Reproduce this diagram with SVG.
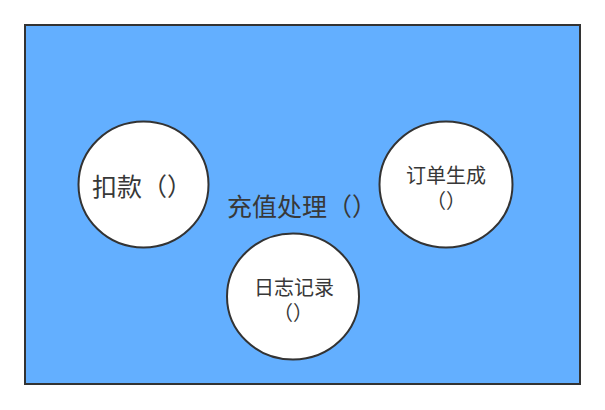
<svg xmlns="http://www.w3.org/2000/svg" width="605" height="410" viewBox="0 0 605 410">
<style>
.bg{fill:#ffffff}
.frame{fill:#63afff;stroke:#333333;stroke-width:2}
.node{fill:#ffffff;stroke:#333333;stroke-width:2}
text{font-family:"Microsoft YaHei","Noto Sans CJK SC","Noto Sans",sans-serif;fill:#383838}
.big{font-size:25px}
.small{font-size:20px;text-anchor:middle}
</style>
<rect class="bg" x="0" y="0" width="605" height="410"/>
<g id="container">
<rect class="frame" x="25" y="25" width="555" height="359"/>
<text class="big" x="227" y="216">充值处理（）</text>
</g>
<g id="node-deduct">
<ellipse class="node" cx="143.5" cy="184.5" rx="65" ry="63"/>
<text class="big" x="92" y="196">扣款（）</text>
</g>
<g id="node-order">
<ellipse class="node" cx="446" cy="184.5" rx="66.5" ry="63"/>
<text class="small" x="446" y="183">订单生成</text>
<text class="small" x="446" y="208">（）</text>
</g>
<g id="node-log">
<ellipse class="node" cx="293" cy="296.5" rx="66" ry="63"/>
<text class="small" x="294" y="295">日志记录</text>
<text class="small" x="293" y="320">（）</text>
</g>
<g id="connectors"></g>
</svg>
